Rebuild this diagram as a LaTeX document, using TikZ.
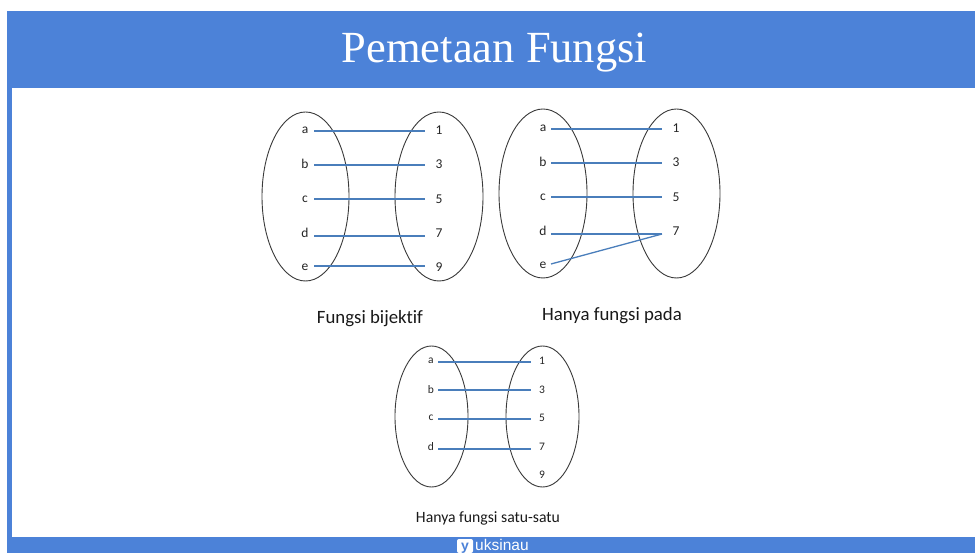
\documentclass[tikz,border=0pt]{standalone}
\usepackage{fontspec}
\setmainfont{Liberation Serif}
\newfontfamily\carl[RawFeature=-liga]{Carlito}
\newfontfamily\lsans{Liberation Sans}
\usetikzlibrary{shapes.geometric}
\definecolor{band}{HTML}{4C82D8}
\definecolor{conn}{HTML}{4A7EBB}
\definecolor{ringc}{HTML}{3A3A3A}
\tikzset{
  x=1pt,y=-1pt,
  ring/.style={draw=ringc,line width=0.9pt,fill=none,shape=ellipse,inner sep=0pt,outer sep=0pt},
  conline/.style={draw=conn,line width=1.3pt},
  lab/.style={font=\carl\fontsize{13.5}{14}\selectfont,text=black!85,inner sep=0pt,yshift=-1pt},
  labs/.style={font=\carl\fontsize{11.5}{12}\selectfont,text=black!85,inner sep=0pt,yshift=-0.5pt},
  captext/.style={font=\carl\fontsize{18.8}{20}\selectfont,text=black!90,inner sep=0pt,yshift=-1.5pt},
}
\begin{document}
\begin{tikzpicture}
\useasboundingbox (0,0) rectangle (975,553);
\fill[white] (0,0) rectangle (975,553);
% frame
\fill[band] (7,11) rectangle (975,88);
\fill[band] (7,88) rectangle (12,537);
\fill[band] (7,537) rectangle (975,553);
\node[font=\fontsize{44.5}{46}\selectfont,text=white,inner sep=0pt,anchor=base] (title) at (494.5,63) {Pemetaan Fungsi};
% Set 1
\node[ring,minimum width=87pt,minimum height=169pt] (e1l) at (305.5,196.5) {};
\node[ring,minimum width=88pt,minimum height=169pt] (e1r) at (439,196.5) {};
\foreach \n/\t/\ly/\cy/\nt in {1/a/129/131/1,2/b/163/165/3,3/c/198/199/5,4/d/232/236/7,5/e/266/266/9}{
  \node[lab] (pa\n) at (305,\ly) {\t};
  \node[lab] (pb\n) at (439,\ly) {\nt};
  \coordinate (pc\n) at (314,\cy);
  \coordinate (pd\n) at (425,\cy);
  \draw[conline] (pc\n) -- (pd\n);
}
\node[captext] (cap1) at (370,317) {Fungsi bijektif};
% Set 2
\node[ring,minimum width=88pt,minimum height=169pt] (e2l) at (543,193.5) {};
\node[ring,minimum width=87pt,minimum height=169pt] (e2r) at (676.5,193.5) {};
\foreach \n/\t/\ly/\cy/\nt in {1/a/127/129/1,2/b/161/163/3,3/c/196/197/5,4/d/230/234/7}{
  \node[lab] (qa\n) at (543,\ly) {\t};
  \node[lab] (qb\n) at (676,\ly) {\nt};
  \coordinate (qc\n) at (551,\cy);
  \coordinate (qd\n) at (662,\cy);
  \draw[conline] (qc\n) -- (qd\n);
}
\node[lab] (qa5) at (543,264) {e};
\coordinate (qc5) at (551,264);
\draw[conline] (qc5) -- (qd4);
\node[captext] (cap2) at (612,314) {Hanya fungsi pada};
% Set 3
\node[ring,minimum width=73pt,minimum height=141pt] (e3l) at (431.5,416.5) {};
\node[ring,minimum width=73pt,minimum height=141pt] (e3r) at (542.5,416.5) {};
\foreach \n/\t/\ly/\cy/\nt in {1/a/360/362/1,2/b/389/390/3,3/c/417/419/5,4/d/446/449/7}{
  \node[labs] (ra\n) at (431,\ly) {\t};
  \node[labs] (rb\n) at (542,\ly) {\nt};
  \coordinate (rc\n) at (438,\cy);
  \coordinate (rd\n) at (531,\cy);
  \draw[conline,line width=1.1pt] (rc\n) -- (rd\n);
}
\node[labs] (rb5) at (542,474) {9};
\node[font=\carl\fontsize{15.7}{16}\selectfont,text=black!90,inner sep=0pt] (cap3) at (488,518) {Hanya fungsi satu-satu};
% logo
\fill[white,rounded corners=2pt] (457,539) rectangle (473,553);
\node[font=\lsans\bfseries\fontsize{14}{14}\selectfont,text=band,inner sep=0pt,anchor=base] (logoy) at (465,550.5) {y};
\node[font=\lsans\fontsize{15.5}{16}\selectfont,text=white,inner sep=0pt,anchor=base west] (logot) at (475,550.5) {uksinau};
\end{tikzpicture}
\end{document}
